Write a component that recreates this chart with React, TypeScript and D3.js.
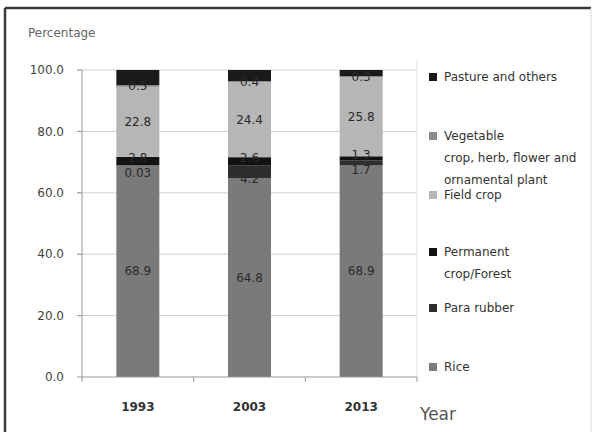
import React from "react";
import * as d3 from "d3";

const years = ["1993", "2003", "2013"];
const rice = [68.9, 64.8, 68.9];
const paraRubber = [0.03, 4.2, 1.7];
const permanentCrop = [2.8, 2.6, 1.3];
const fieldCrop = [22.8, 24.4, 25.8];
const vegetable = [0.5, 0.4, 0.3];
const pasture = [4.97, 3.6, 2.0];

const seriesKeys = ["rice", "para", "perm", "field", "veg", "pasture"];
const yTicks = [0, 20, 40, 60, 80, 100];

const legendLines = [
  ["Pasture and others"],
  ["Vegetable", "crop, herb, flower and", "ornamental plant"],
  ["Field crop"],
  ["Permanent", "crop/Forest"],
  ["Para rubber"],
  ["Rice"],
];

const colors: Record<string, string> = {
  rice: "#7a7a7a",
  para: "#2e2e2e",
  perm: "#121212",
  field: "#b6b6b6",
  veg: "#8c8c8c",
  pasture: "#1a1a1a",
};
const legendKeys = ["pasture", "veg", "field", "perm", "para", "rice"];
const legendY = [77, 136, 195, 252, 308, 367];
const lineGap = 22;
const labelShift: Record<string, number> = { para: 7, perm: -3 };

export default function App() {
  const W = 593, H = 432;
  const plotL = 82, plotR = 417, plotT = 70, plotB = 377;
  const x = d3.scaleBand<string>().domain(years).range([plotL, plotR]).paddingInner(0.615).paddingOuter(0.3075);
  const y = d3.scaleLinear().domain([0, 100]).range([plotB, plotT]);

  const table = years.map((yr, i) => ({
    year: yr,
    rice: rice[i],
    para: paraRubber[i],
    perm: permanentCrop[i],
    field: fieldCrop[i],
    veg: vegetable[i],
    pasture: pasture[i],
  }));
  const stack = d3.stack<any>().keys(seriesKeys)(table);

  const font = "'DejaVu Sans', Tahoma, sans-serif";
  const catTicks = [plotL, ...years.slice(0, -1).map((yr) => (x(yr)! + x.bandwidth() / 2 + x.step() / 2)), plotR];

  return (
    <svg width={W} height={H} style={{ position: "fixed", left: 0, top: 0, background: "#fff" }} fontFamily={font}>
      <rect x={0} y={0} width={W} height={H} fill="#fff" />
      {/* frame */}
      <line x1={5} y1={8} x2={591} y2={8} stroke="#3a3a3a" strokeWidth={2.5} />
      <line x1={5} y1={8} x2={5} y2={432} stroke="#3a3a3a" strokeWidth={2.5} />
      <line x1={591} y1={8} x2={591} y2={432} stroke="#d8d8d8" strokeWidth={1} />

      <text x={28} y={37} fontSize={12} fill="#666">Percentage</text>

      {/* gridlines */}
      {yTicks.filter((t) => t > 0).map((t) => (
        <line key={t} x1={plotL - 5} x2={plotR} y1={y(t)} y2={y(t)} stroke="#d0d0d0" strokeWidth={1} />
      ))}
      <line x1={plotR} x2={plotR} y1={plotT - 10} y2={plotB} stroke="#e0e0e0" />
      {/* y axis */}
      <line x1={plotL} x2={plotL} y1={plotT} y2={plotB} stroke="#999" />
      {yTicks.map((t) => (
        <g key={t}>
          <line x1={plotL - 5} x2={plotL} y1={y(t)} y2={y(t)} stroke="#999" />
          <text x={64} y={y(t)} dy="0.35em" textAnchor="end" fontSize={12} fill="#444">{t.toFixed(1)}</text>
        </g>
      ))}

      {/* bars */}
      {stack.map((s) => (
        <g key={s.key}>
          {s.map((d, i) => (
            <rect key={i} x={x(years[i])} width={x.bandwidth()} y={y(d[1])} height={y(d[0]) - y(d[1])} fill={colors[s.key]} />
          ))}
        </g>
      ))}
      {/* value labels */}
      {stack.map((s) => (
        <g key={s.key + "l"}>
          {s.map((d, i) => {
            if (s.key === "pasture") return null;
            const v = (table[i] as any)[s.key];
            return (
              <text key={i} x={x(years[i])! + x.bandwidth() / 2} y={y((d[0] + d[1]) / 2) + (labelShift[s.key] || 0)} dy="0.35em" textAnchor="middle" fontSize={12} fill="#2a2a2a">{String(v)}</text>
            );
          })}
        </g>
      ))}

      {/* x axis */}
      <line x1={plotL} x2={plotR} y1={plotB} y2={plotB} stroke="#999" />
      {catTicks.map((cx, i) => (
        <line key={i} x1={cx} x2={cx} y1={plotB} y2={plotB + 5} stroke="#999" />
      ))}
      {years.map((yr) => (
        <text key={yr} x={x(yr)! + x.bandwidth() / 2} y={407} dy="0.35em" textAnchor="middle" fontSize={12} fontWeight="bold" fill="#333">{yr}</text>
      ))}
      <text x={420} y={420} fontSize={17} fill="#555">Year</text>

      {/* legend */}
      {legendKeys.map((k, i) => (
        <g key={k}>
          <rect x={429} y={legendY[i] - 4} width={8} height={8} fill={colors[k]} />
          {legendLines[i].map((ln, j) => (
            <text key={j} x={444} y={legendY[i] + j * lineGap} dy="0.35em" fontSize={12} fill="#333">{ln}</text>
          ))}
        </g>
      ))}
    </svg>
  );
}
